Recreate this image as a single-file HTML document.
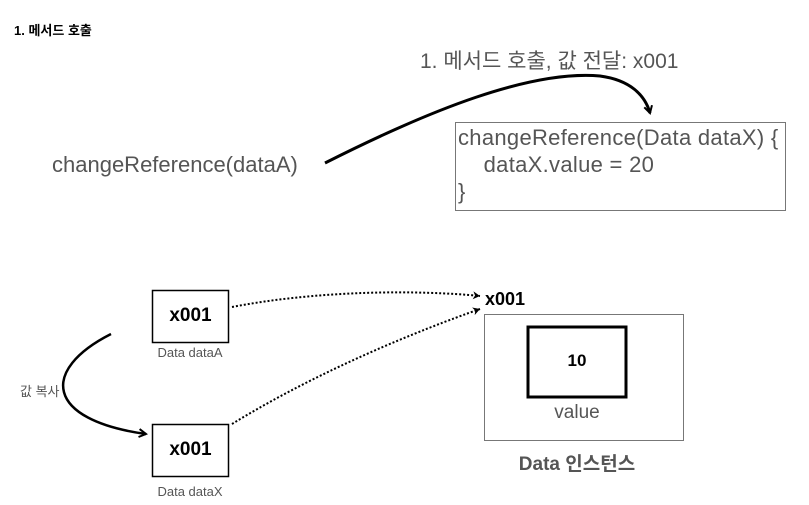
<!DOCTYPE html>
<html><head><meta charset="utf-8"><style>
body{margin:0;background:#fff;width:809px;height:505px;overflow:hidden;position:relative;font-family:"Liberation Sans","Noto Sans CJK KR",sans-serif}
.t{position:absolute;white-space:nowrap}
</style></head><body>
<svg width="809" height="505" style="position:absolute;left:0;top:0">
<defs>
<marker id="a" markerWidth="10" markerHeight="10" refX="8" refY="5" orient="auto" markerUnits="userSpaceOnUse"><path d="M1,1 L8,5 L1,9" fill="none" stroke="#000" stroke-width="2"/></marker>
<marker id="b" markerWidth="8" markerHeight="8" refX="7" refY="4" orient="auto" markerUnits="userSpaceOnUse"><path d="M0,0 L7,4 L0,8 L2,4Z" fill="#000"/></marker>
</defs>
<rect x="455.5" y="122.5" width="330" height="88" fill="none" stroke="#777" stroke-width="1"/>
<path d="M325,163 C430,110 530,70 600,76 C630,80 645,95 650,113" fill="none" stroke="#000" stroke-width="3" marker-end="url(#a)"/>
<rect x="152.5" y="290.5" width="76" height="52" fill="#fff" stroke="#000" stroke-width="1.5"/>
<rect x="152.5" y="424.5" width="76" height="52" fill="#fff" stroke="#000" stroke-width="1.5"/>
<rect x="484.5" y="314.5" width="199" height="126" fill="none" stroke="#777" stroke-width="1"/>
<rect x="528" y="327" width="98" height="70" fill="none" stroke="#000" stroke-width="3"/>
<path d="M111,334 C40,370 45,420 146,434" fill="none" stroke="#000" stroke-width="2.5" marker-end="url(#a)"/>
<path d="M232,307 C320,290 420,290 480,296" fill="none" stroke="#000" stroke-width="2" stroke-dasharray="2,2" marker-end="url(#b)"/>
<path d="M232,424 C320,370 420,330 480,309" fill="none" stroke="#000" stroke-width="2" stroke-dasharray="2,2" marker-end="url(#b)"/>
</svg>
<div class="t" style="left:14px;top:20px;font-size:13px;font-weight:bold;color:#000">1. 메서드 호출</div>
<div class="t" style="left:420px;top:45px;font-size:21px;color:#555">1. 메서드 호출, 값 전달: x001</div>
<div class="t" style="left:52px;top:152px;font-size:22px;color:#555">changeReference(dataA)</div>
<div class="t" style="left:458px;top:124px;font-size:22px;color:#555;line-height:27px;letter-spacing:0.3px">changeReference(Data dataX) {<br>&nbsp;&nbsp;&nbsp;&nbsp;dataX.value = 20<br>}</div>
<div class="t" style="left:152px;top:305px;width:77px;text-align:center;font-size:19px;font-weight:bold">x001</div>
<div class="t" style="left:152px;top:439px;width:77px;text-align:center;font-size:19px;font-weight:bold">x001</div>
<div class="t" style="left:140px;top:345px;width:100px;text-align:center;font-size:13px;color:#555">Data dataA</div>
<div class="t" style="left:140px;top:484px;width:100px;text-align:center;font-size:13px;color:#555">Data dataX</div>
<div class="t" style="left:20px;top:381px;font-size:13px;color:#555">값 복사</div>
<div class="t" style="left:485px;top:289px;font-size:18px;font-weight:bold">x001</div>
<div class="t" style="left:527px;top:351px;width:100px;text-align:center;font-size:17px;font-weight:bold">10</div>
<div class="t" style="left:527px;top:402px;width:100px;text-align:center;font-size:19px;color:#555">value</div>
<div class="t" style="left:477px;top:449px;width:200px;text-align:center;font-size:19px;font-weight:bold;color:#555">Data 인스턴스</div>
</body></html>
